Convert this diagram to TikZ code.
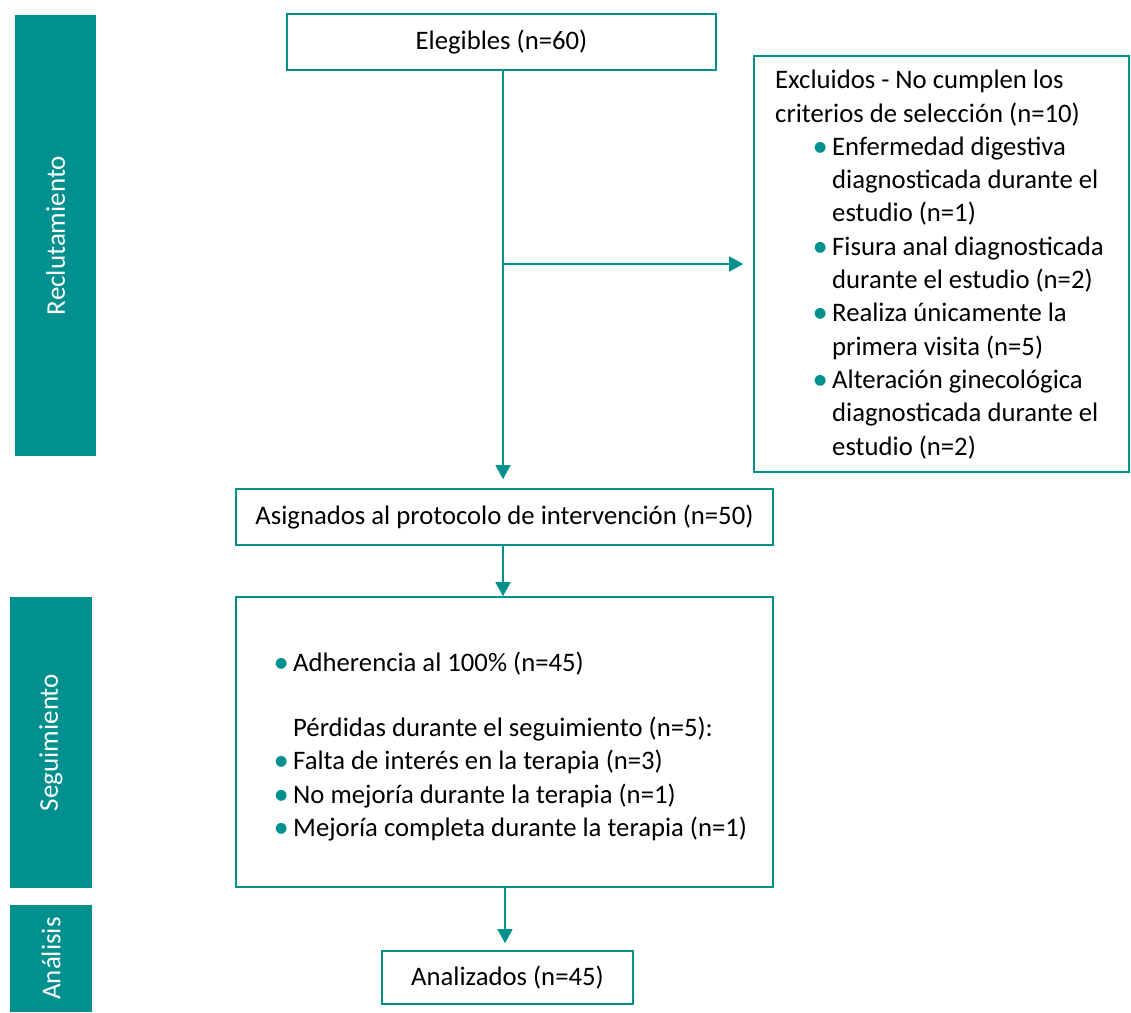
\documentclass[tikz,border=0pt]{standalone}
\usepackage{fontspec}
\usepackage{graphicx}
\setmainfont{Carlito}
\usetikzlibrary{arrows.meta}
\definecolor{tl}{RGB}{0,145,143}
\newcommand\bl{\makebox[17pt][l]{\hspace*{-2.5pt}\textcolor{tl}{\raisebox{-1pt}{\scalebox{1.15}{•}}}}}
\begin{document}
\begin{tikzpicture}[x=1pt,y=-1pt,
  txt/.style={font=\fontsize{26.7}{33.3}\selectfont, text=black},
  box/.style={draw=tl, line width=1.6pt, inner sep=0pt, txt},
  bar/.style={fill=tl, inner sep=0pt, text=white, font=\fontsize{27}{32}\selectfont, rotate=90},
  arr/.style={draw=tl, line width=1.6pt, -{Triangle[width=15pt,length=14pt]}}]
\useasboundingbox (0,0) rectangle (1131,1012);
% side bars
\node[bar, minimum width=441pt, minimum height=81pt] (rec) at (55.5,235.5) {Reclutamiento};
\node[bar, minimum width=291pt, minimum height=82pt] (segbar) at (51,742.5) {Seguimiento};
\node[bar, minimum width=107pt, minimum height=82pt] (anbar) at (51,958.5) {Análisis};
% boxes
\node[box, minimum width=429pt, minimum height=56pt] (eleg) at (501.5,42) {Elegibles (n=60)};
\node[box, minimum width=375pt, minimum height=416pt] (excl) at (941.5,264) {};
\node[txt, anchor=base west, inner sep=0pt, align=left] (excltxt) at (775,455) {%
Excluidos - No cumplen los\\
criterios de selección (n=10)\\
\hspace*{40pt}\bl Enfermedad digestiva\\
\hspace*{57pt}diagnosticada durante el\\
\hspace*{57pt}estudio (n=1)\\
\hspace*{40pt}\bl Fisura anal diagnosticada\\
\hspace*{57pt}durante el estudio (n=2)\\
\hspace*{40pt}\bl Realiza únicamente la\\
\hspace*{57pt}primera visita (n=5)\\
\hspace*{40pt}\bl Alteración ginecológica\\
\hspace*{57pt}diagnosticada durante el\\
\hspace*{57pt}estudio (n=2)};
\node[box, minimum width=537pt, minimum height=56pt] (asig) at (504.5,517) {Asignados al protocolo de intervención (n=50)};
\node[box, minimum width=537pt, minimum height=290pt] (seg) at (504.5,742) {};
\node[txt, anchor=base west, inner sep=0pt, align=left] (segtxt) at (276,836.5) {%
\bl Adherencia al 100\% (n=45)\\[31.7pt]
\hspace*{17pt}Pérdidas durante el seguimiento (n=5):\\
\bl Falta de interés en la terapia (n=3)\\
\bl No mejoría durante la terapia (n=1)\\
\bl Mejoría completa durante la terapia (n=1)};
\node[box, minimum width=251pt, minimum height=53pt] (anal) at (507.5,977.5) {Analizados (n=45)};
% connectors
\draw[arr, shorten >=9pt] (eleg.south -| 503,0) -- (asig.north -| 503,0);
\draw[arr, shorten >=10pt] (excl.west -| 503,0) -- (excl.west);
\draw[arr] (asig.south -| 503,0) -- (seg.north -| 503,0);
\draw[arr, shorten >=7pt] (seg.south -| 505,0) -- (anal.north -| 505,0);
\end{tikzpicture}
\end{document}
